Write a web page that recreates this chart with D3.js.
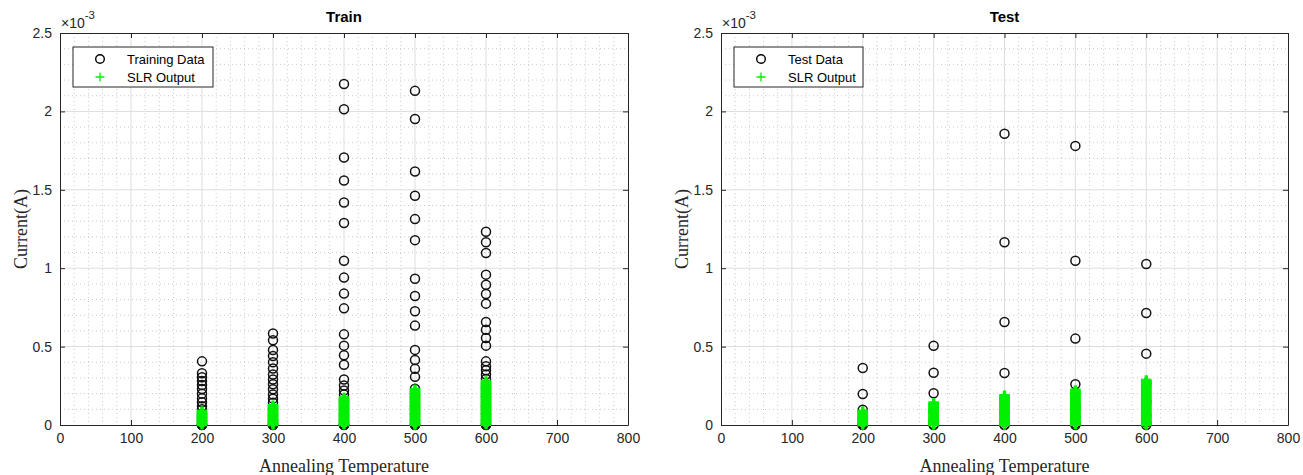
<!DOCTYPE html>
<html><head><meta charset="utf-8">
<script src="https://cdn.jsdelivr.net/npm/d3@7"></script>
<style>body{margin:0;background:#fff}svg{display:block}</style>
</head><body>
<script>
// ---------- data (current values in units of 1e-3 A) ----------
const temperatures = [200, 300, 400, 500, 600];
const xTickValues = [0, 100, 200, 300, 400, 500, 600, 700, 800];
const yTickValues = [0, 0.5, 1, 1.5, 2, 2.5];
const yTickLabels = ["0", "0.5", "1", "1.5", "2", "2.5"];

const train200 = [0.406, 0.330, 0.305, 0.280, 0.255, 0.230, 0.200, 0.170, 0.145, 0.120, 0.100, 0.070, 0.045, 0.025, 0.010, 0.004, 0.001, 0];
const train300 = [0.583, 0.540, 0.478, 0.440, 0.400, 0.360, 0.322, 0.290, 0.260, 0.228, 0.195, 0.168, 0.142, 0.100, 0.060, 0.030, 0.012, 0.004, 0.001, 0];
const train400 = [2.175, 2.014, 1.706, 1.559, 1.419, 1.288, 1.048, 0.940, 0.838, 0.744, 0.578, 0.506, 0.445, 0.384, 0.290, 0.252, 0.220, 0.194, 0.150, 0.100, 0.060, 0.025, 0.008, 0.002, 0];
const train500 = [2.131, 1.952, 1.617, 1.462, 1.313, 1.179, 0.933, 0.823, 0.725, 0.634, 0.479, 0.415, 0.358, 0.307, 0.231, 0.180, 0.120, 0.070, 0.030, 0.010, 0.002, 0];
const train600 = [1.232, 1.165, 1.097, 0.959, 0.895, 0.836, 0.774, 0.657, 0.608, 0.555, 0.506, 0.406, 0.375, 0.349, 0.322, 0.294, 0.240, 0.180, 0.120, 0.070, 0.030, 0.010, 0.002, 0];

const slrTrain200 = [0.088, 0.079, 0.071, 0.062, 0.053, 0.045, 0.036, 0.027, 0.019, 0.010, 0.003];
const slrTrain300 = [0.124, 0.115, 0.106, 0.097, 0.088, 0.079, 0.070, 0.061, 0.052, 0.043, 0.034, 0.025, 0.016, 0.008, 0.002];
const slrTrain400 = [0.173, 0.164, 0.155, 0.146, 0.137, 0.127, 0.118, 0.109, 0.100, 0.091, 0.082, 0.073, 0.064, 0.055, 0.046, 0.037, 0.028, 0.019, 0.010, 0.003];
const slrTrain500 = [0.226, 0.217, 0.207, 0.198, 0.188, 0.179, 0.169, 0.160, 0.150, 0.141, 0.131, 0.122, 0.112, 0.103, 0.093, 0.084, 0.074, 0.065, 0.055, 0.046, 0.036, 0.027, 0.017, 0.008, 0.002];
const slrTrain600 = [0.279, 0.270, 0.260, 0.251, 0.241, 0.232, 0.222, 0.213, 0.203, 0.194, 0.184, 0.175, 0.165, 0.156, 0.146, 0.137, 0.127, 0.118, 0.108, 0.099, 0.089, 0.080, 0.070, 0.061, 0.051, 0.042, 0.032, 0.023, 0.013, 0.004];

const test200 = [0.364, 0.198, 0.097, 0.040, 0.010, 0.002, 0];
const test300 = [0.505, 0.333, 0.203, 0.090, 0.030, 0.005, 0];
const test400 = [1.857, 1.165, 0.657, 0.332, 0.162, 0.080, 0.020, 0.003, 0];
const test500 = [1.780, 1.048, 0.551, 0.260, 0.120, 0.050, 0.010, 0];
const test600 = [1.027, 0.714, 0.455, 0.264, 0.150, 0.060, 0.015, 0];

const slrTest200 = [0.088, 0.079, 0.070, 0.061, 0.052, 0.043, 0.034, 0.025, 0.016, 0.008, 0.002];
const slrTest300 = [0.141, 0.132, 0.122, 0.113, 0.103, 0.094, 0.084, 0.075, 0.065, 0.056, 0.046, 0.037, 0.027, 0.018, 0.009, 0.002];
const slrTest400 = [0.188, 0.179, 0.169, 0.160, 0.150, 0.141, 0.131, 0.122, 0.112, 0.103, 0.093, 0.084, 0.074, 0.065, 0.055, 0.046, 0.036, 0.027, 0.017, 0.008, 0.002];
const slrTest500 = [0.222, 0.213, 0.203, 0.194, 0.184, 0.175, 0.165, 0.156, 0.146, 0.137, 0.127, 0.118, 0.108, 0.099, 0.089, 0.080, 0.070, 0.061, 0.051, 0.042, 0.032, 0.023, 0.013, 0.004];
const slrTest600 = [0.285, 0.276, 0.266, 0.257, 0.247, 0.238, 0.228, 0.219, 0.209, 0.200, 0.190, 0.181, 0.171, 0.162, 0.152, 0.143, 0.133, 0.124, 0.114, 0.105, 0.095, 0.086, 0.076, 0.067, 0.057, 0.048, 0.038, 0.029, 0.019, 0.010, 0.002];

const panelTitles = ["Train", "Test"];
const dataLabels = ["Training Data", "Test Data"];
const slrLabel = "SLR Output";
const xLabel = "Annealing Temperature";
const yLabel = "Current(A)";

// ---------- drawing ----------
const W = 1303, H = 475;
const svg = d3.select("body").append("svg").attr("width", W).attr("height", H)
  .style("font-family", "Arial, 'Liberation Sans', sans-serif");

const panels = [
  { x0: 60, x1: 628, legendW: 140, title: panelTitles[0], label: dataLabels[0],
    data: [train200, train300, train400, train500, train600],
    slr: [slrTrain200, slrTrain300, slrTrain400, slrTrain500, slrTrain600] },
  { x0: 721, x1: 1288, legendW: 129, title: panelTitles[1], label: dataLabels[1],
    data: [test200, test300, test400, test500, test600],
    slr: [slrTest200, slrTest300, slrTest400, slrTest500, slrTest600] }
];
const yTop = 33, yBot = 425;
const axisColor = "#262626";
const green = "#00f000";
const plusPath = "M-5.3,0H5.3M0,-5V5";

panels.forEach(p => {
  const x = d3.scaleLinear().domain([0, 800]).range([p.x0, p.x1]);
  const y = d3.scaleLinear().domain([0, 2.5]).range([yBot, yTop]);
  const g = svg.append("g");

  // minor grid
  const xMinor = d3.range(0, 801, 20).filter(v => v % 100 !== 0);
  const yMinor = d3.range(0, 26, 1).map(v => v / 10).filter(v => Math.round(v * 10) % 5 !== 0);
  g.append("g").selectAll("line").data(xMinor).join("line")
    .attr("x1", d => x(d)).attr("x2", d => x(d)).attr("y1", yTop).attr("y2", yBot)
    .attr("stroke", "#c4c4c4").attr("stroke-width", 0.9).attr("stroke-dasharray", "1,3");
  g.append("g").selectAll("line").data(yMinor).join("line")
    .attr("y1", d => y(d)).attr("y2", d => y(d)).attr("x1", p.x0).attr("x2", p.x1)
    .attr("stroke", "#c4c4c4").attr("stroke-width", 0.9).attr("stroke-dasharray", "1,3");
  // major grid
  g.append("g").selectAll("line").data(xTickValues.slice(1, -1)).join("line")
    .attr("x1", d => x(d)).attr("x2", d => x(d)).attr("y1", yTop).attr("y2", yBot)
    .attr("stroke", "#dddddd").attr("stroke-width", 1);
  g.append("g").selectAll("line").data(yTickValues.slice(1, -1)).join("line")
    .attr("y1", d => y(d)).attr("y2", d => y(d)).attr("x1", p.x0).attr("x2", p.x1)
    .attr("stroke", "#dddddd").attr("stroke-width", 1);

  // axes
  const styleAxis = (sel, showText) => {
    sel.select(".domain").attr("stroke", axisColor).attr("stroke-width", 1);
    sel.selectAll(".tick line").attr("stroke", axisColor).attr("stroke-width", 1);
    sel.selectAll(".tick text").attr("fill", axisColor).style("font-size", "14px")
      .style("display", showText ? null : "none");
  };
  const fmtY = d => yTickLabels[yTickValues.indexOf(d)];
  g.append("g").attr("transform", `translate(0,${yBot})`)
    .call(d3.axisBottom(x).tickValues(xTickValues).tickSize(-5).tickPadding(7).tickSizeOuter(0))
    .call(s => styleAxis(s, true))
    .call(s => s.selectAll(".tick text").attr("dy", "0.8em"));
  g.append("g").attr("transform", `translate(0,${yTop})`)
    .call(d3.axisTop(x).tickValues(xTickValues).tickSize(-5).tickSizeOuter(0))
    .call(s => styleAxis(s, false));
  g.append("g").attr("transform", `translate(${p.x0},0)`)
    .call(d3.axisLeft(y).tickValues(yTickValues).tickFormat(fmtY).tickSize(-5).tickPadding(8).tickSizeOuter(0))
    .call(s => styleAxis(s, true));
  g.append("g").attr("transform", `translate(${p.x1},0)`)
    .call(d3.axisRight(y).tickValues(yTickValues).tickSize(-5).tickSizeOuter(0))
    .call(s => styleAxis(s, false));

  // exponent label
  const ex = g.append("text").attr("x", p.x0 + 1).attr("y", 28).attr("fill", axisColor)
    .style("font-size", "14px");
  ex.append("tspan").text("\u00d710");
  ex.append("tspan").attr("dy", -9).style("font-size", "11.5px").text("-3");

  // title
  g.append("text").attr("x", (p.x0 + p.x1) / 2).attr("y", 22).attr("text-anchor", "middle")
    .attr("font-weight", "bold").style("font-size", "15px").attr("fill", "#000").text(p.title);

  // axis labels
  g.append("text").attr("x", (p.x0 + p.x1) / 2).attr("y", 472).attr("text-anchor", "middle")
    .style("font-family", "'Liberation Serif', 'Times New Roman', serif").style("font-size", "18px")
    .attr("fill", axisColor).text(xLabel);
  g.append("text").attr("transform", `translate(${p.x0 - 33},${(yTop + yBot) / 2}) rotate(-90)`)
    .attr("text-anchor", "middle")
    .style("font-family", "'Liberation Serif', 'Times New Roman', serif").style("font-size", "18px")
    .attr("fill", axisColor).text(yLabel);

  // data circles
  const pts = [];
  temperatures.forEach((t, i) => p.data[i].forEach(v => pts.push({ t, v })));
  g.append("g").selectAll("circle").data(pts).join("circle")
    .attr("cx", d => x(d.t)).attr("cy", d => y(d.v)).attr("r", 4.5)
    .attr("fill", "none").attr("stroke", "#111").attr("stroke-width", 1.5);

  // SLR output plus markers
  const spts = [];
  temperatures.forEach((t, i) => p.slr[i].forEach(v => spts.push({ t, v })));
  g.append("g").selectAll("path").data(spts).join("path")
    .attr("transform", d => `translate(${x(d.t)},${y(d.v)})`)
    .attr("d", plusPath).attr("stroke", green).attr("stroke-width", 3.2).attr("fill", "none");

  // legend
  const lx = p.x0 + 13, ly = 47;
  const lg = g.append("g");
  lg.append("rect").attr("x", lx).attr("y", ly).attr("width", p.legendW).attr("height", 40)
    .attr("fill", "#fff").attr("stroke", axisColor).attr("stroke-width", 1);
  lg.append("circle").attr("cx", p.x0 + 40).attr("cy", ly + 12).attr("r", 4.3)
    .attr("fill", "none").attr("stroke", "#000").attr("stroke-width", 1.4);
  lg.append("path").attr("transform", `translate(${p.x0 + 40},${ly + 30})`)
    .attr("d", "M-4.5,0H4.5M0,-4.5V4.5").attr("stroke", green).attr("stroke-width", 1.3);
  lg.append("text").attr("x", p.x0 + 67).attr("y", ly + 16.5).style("font-size", "13px")
    .attr("fill", "#000").text(p.label);
  lg.append("text").attr("x", p.x0 + 67).attr("y", ly + 34.5).style("font-size", "13px")
    .attr("fill", "#000").text(slrLabel);
});
</script>
</body></html>
